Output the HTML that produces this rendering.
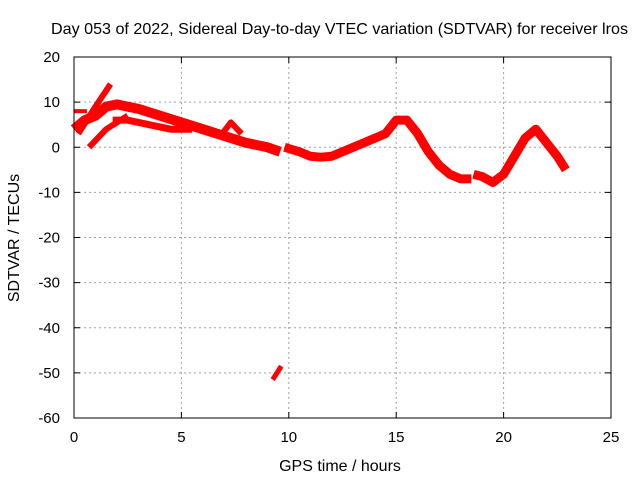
<!DOCTYPE html>
<html><head><meta charset="utf-8"><style>body{margin:0;background:#fff}svg{display:block;font-family:"Liberation Sans",sans-serif}</style></head>
<body>
<svg id="chart" width="640" height="480" viewBox="0 0 640 480"></svg>
<script>
const xTicks=[0,5,10,15,20,25];
const yTicks=[20,10,0,-10,-20,-30,-40,-50,-60];
const arc1Hours=[0,0.5,1,1.5,2,3,4,5,6,7,8,9,9.6];
const arc1Vals=[4,6,7,9,9.5,8.5,7,5.5,4,2.5,1,0,-1];
const arc1bHours=[1.8,2.5,3.5,4.5,5.5];
const arc1bVals=[6,6,5,4,4];
const arc2Hours=[0.2,1,1.7];
const arc2Vals=[3,9,14];
const arc3Hours=[0.7,1.5,2.5];
const arc3Vals=[0,4,7];
const arc4Hours=[0,0.6];
const arc4Vals=[8,8];
const arc5Hours=[6.9,7.3,7.8];
const arc5Vals=[3,5.5,3];
const arc6Hours=[9.8,10.5,11,11.5,12,12.5,13,14,14.5,15,15.5,16,16.5,17,17.5,18,18.5];
const arc6Vals=[0,-1,-2,-2.2,-2,-1,0,2,3,6,6,3,-1,-4,-6,-7,-7];
const arc7Hours=[18.6,19,19.5,20,20.5,21,21.5,22,22.5,22.9];
const arc7Vals=[-6,-6.5,-7.8,-6,-2,2,4,1,-2,-5];
const arc8Hours=[9.25,9.65];
const arc8Vals=[-51.5,-48.5];
const arcs=[[arc1Hours,arc1Vals,10],[arc1bHours,arc1bVals,7],[arc2Hours,arc2Vals,6],[arc3Hours,arc3Vals,6],[arc4Hours,arc4Vals,4],[arc5Hours,arc5Vals,6],[arc6Hours,arc6Vals,9],[arc7Hours,arc7Vals,9],[arc8Hours,arc8Vals,5]];
const L=74,R=611,T=57,B=418;
const sx=h=>L+(h-0)/25*(R-L);
const sy=v=>T+(20-v)/80*(B-T);
const svg=document.getElementById('chart');
const NS='http://www.w3.org/2000/svg';
function mk(tag,attrs,txt){const e=document.createElementNS(NS,tag);for(const k in attrs)e.setAttribute(k,attrs[k]);if(txt!==undefined)e.textContent=txt;svg.appendChild(e);return e;}
xTicks.forEach(t=>{
  const x=sx(t);
  if(t>0&&t<25){const g=mk('line',{x1:x,x2:x,y1:T,y2:B,stroke:'#a0a0a0','stroke-dasharray':'2,3'});
  
  }
  mk('line',{x1:x,x2:x,y1:B,y2:B-6,stroke:'#000'});mk('line',{x1:x,x2:x,y1:T,y2:T+6,stroke:'#000'});
  const l=mk('text',{x:x,y:B+24,'text-anchor':'middle','font-size':15,fill:'#000'},t);
  
  
});
yTicks.forEach(t=>{
  const y=sy(t);
  if(t<20&&t>-60){const g=mk('line',{x1:L,x2:R,y1:y,y2:y,stroke:'#a0a0a0','stroke-dasharray':'2,3'});
  
  }
  mk('line',{x1:L,x2:L+6,y1:y,y2:y,stroke:'#000'});mk('line',{x1:R,x2:R-6,y1:y,y2:y,stroke:'#000'});
  const l=mk('text',{x:L-14,y:y+5,'text-anchor':'end','font-size':15,fill:'#000'},t);
  
  
});
arcs.forEach(a=>{
  const pts=a[0].map((h,i)=>sx(h)+','+sy(a[1][i])).join(' ');
  const p=mk('polyline',{points:pts,fill:'none',stroke:'#ff0000','stroke-width':a[2],'stroke-linejoin':'round','stroke-linecap':'butt'});
  
  
});
const f=mk('rect',{x:L,y:T,width:R-L,height:B-T,fill:'none',stroke:'#000'});


const tt=mk('text',{x:51,y:34,'font-size':16,fill:'#000',textLength:577,lengthAdjust:'spacingAndGlyphs'},'Day 053 of 2022, Sidereal Day-to-day VTEC variation (SDTVAR) for receiver lros');


const xt=mk('text',{x:340,y:471,'text-anchor':'middle','font-size':16,fill:'#000'},'GPS time / hours');


const yt=mk('text',{x:0,y:0,'text-anchor':'middle','font-size':16,fill:'#000',transform:'translate(19,238) rotate(-90)'},'SDTVAR / TECUs');


</script>
</body></html>
